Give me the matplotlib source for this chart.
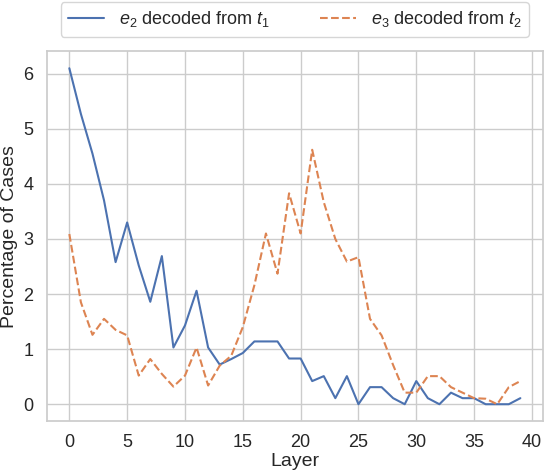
import matplotlib
matplotlib.use('Agg')
import matplotlib.pyplot as plt
import seaborn as sns

sns.set_theme(style='whitegrid')
plt.rcParams['font.family'] = ['Liberation Sans', 'DejaVu Sans']
plt.rcParams['mathtext.fontset'] = 'custom'
plt.rcParams['mathtext.rm'] = 'Liberation Sans'
plt.rcParams['mathtext.it'] = 'Liberation Sans:italic'

layers = list(range(40))
e2_from_t1 = [6.10, 5.27, 4.55, 3.70, 2.58, 3.30, 2.52, 1.86, 2.69, 1.03,
              1.43, 2.06, 1.03, 0.72, 0.82, 0.93, 1.14, 1.14, 1.14, 0.83,
              0.83, 0.42, 0.51, 0.11, 0.51, 0.00, 0.31, 0.31, 0.11, 0.00,
              0.42, 0.11, 0.00, 0.21, 0.11, 0.11, 0.00, 0.00, 0.00, 0.11]
e3_from_t2 = [3.09, 1.85, 1.26, 1.55, 1.35, 1.25, 0.52, 0.82, 0.55, 0.32,
              0.52, 1.03, 0.34, 0.70, 0.88, 1.40, 2.16, 3.10, 2.37, 3.83,
              3.10, 4.62, 3.67, 3.00, 2.59, 2.67, 1.55, 1.25, 0.71, 0.21,
              0.21, 0.51, 0.51, 0.31, 0.21, 0.11, 0.10, 0.00, 0.31, 0.42]

fig = plt.figure(figsize=(5.44, 4.72), dpi=100)
ax = fig.add_axes([0.086, 0.108, 0.912, 0.783])

ax.plot(layers, e2_from_t1, color='#4c72b0', linewidth=1.5,
        label=r'$e_2$ decoded from $t_1$')
ax.plot(layers, e3_from_t2, color='#dd8452', linewidth=1.5, linestyle='--',
        label=r'$e_3$ decoded from $t_2$')

ax.set_xticks([0, 5, 10, 15, 20, 25, 30, 35, 40])
ax.set_yticks([0, 1, 2, 3, 4, 5, 6])
ax.tick_params(labelsize=13, pad=3.5)
ax.set_xlabel('Layer', fontsize=14, labelpad=1)
ax.set_ylabel('Percentage of Cases', fontsize=14, labelpad=4)

ax.legend(loc='lower center', bbox_to_anchor=(0.5, 1.04), ncol=2,
          fontsize=13, frameon=True, columnspacing=2.8,
          borderaxespad=0.0)

fig.savefig('out.png', dpi=100)
